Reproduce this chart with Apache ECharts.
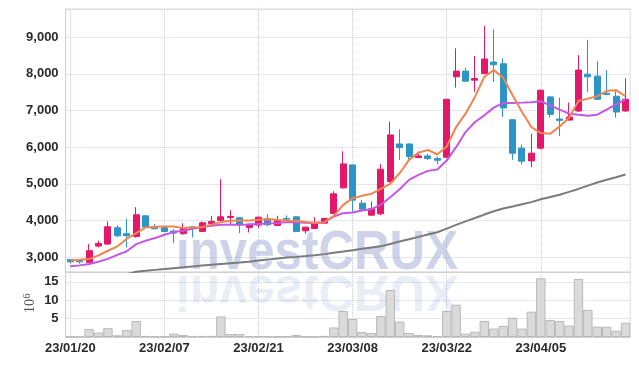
<!DOCTYPE html>
<html>
<head>
<meta charset="utf-8">
<script src="https://cdn.jsdelivr.net/npm/echarts@6/dist/echarts.min.js"></script>
<style>html,body{margin:0;padding:0;background:#fff}#c{width:639px;height:366px}</style>
</head>
<body>
<div id="c"></div>
<script>
const dates = ['23/01/20','23/01/25','23/01/26','23/01/27','23/01/30','23/01/31','23/02/01','23/02/02','23/02/03','23/02/06',
'23/02/07','23/02/08','23/02/09','23/02/10','23/02/13','23/02/14','23/02/15','23/02/16','23/02/17','23/02/20',
'23/02/21','23/02/22','23/02/23','23/02/24','23/02/27','23/02/28','23/03/02','23/03/03','23/03/06','23/03/07',
'23/03/08','23/03/09','23/03/10','23/03/13','23/03/14','23/03/15','23/03/16','23/03/17','23/03/20','23/03/21',
'23/03/22','23/03/23','23/03/24','23/03/27','23/03/28','23/03/29','23/03/30','23/03/31','23/04/03','23/04/04',
'23/04/05','23/04/06','23/04/07','23/04/10','23/04/11','23/04/12','23/04/13','23/04/14','23/04/17','23/04/18'];

const openP  = [2930,2920,2855,3300,3354,3800,3636,3563,4126,3808,3800,3708,3645,3826,3700,3917,4000,4081,4072,3808,
3872,4045,3863,4055,4099,3717,3781,3926,4190,4889,5516,4471,4144,4181,5062,6088,6088,5716,5761,5688,
5726,7921,8076,7829,8012,8323,8277,6750,5973,5625,5973,7372,6768,6740,6988,7994,7939,7473,7390,6988];
const closeP = [2870,2870,3173,3372,3826,3581,3581,4154,3818,3772,3700,3654,3800,3790,3936,3972,4099,4108,3881,3899,
4090,3881,4000,4035,3699,3817,3926,4054,4726,5543,4553,4308,4317,5398,6334,5988,5743,5761,5688,5643,
7308,8076,7802,7875,8406,8250,7070,5835,5616,5836,7555,6896,6732,6823,8104,7921,7308,7436,6960,7308];
const lowP   = [2830,2820,2836,3263,3336,3545,3263,3527,3808,3760,3672,3381,3609,3536,3690,3881,3990,3881,3654,3672,
3790,3840,3850,4010,3681,3636,3765,3910,4180,4870,4244,4262,4130,4144,5035,5652,5652,5700,5652,5534,
5700,7628,7780,7509,7990,7784,6823,5653,5525,5452,5936,6805,6302,6730,6960,7509,7290,7430,6805,6960];
const highP  = [2940,2925,3354,3445,3972,3863,4045,4362,4130,3900,3854,3763,3926,3835,3972,4126,5125,4280,4075,3905,
4100,4172,4126,4135,4110,3830,4090,4070,4798,5888,5520,4562,4517,5543,6697,6488,6100,5879,5816,5743,
7320,8698,8168,8488,9311,9220,8424,6760,6073,6366,7570,7390,7353,7217,8515,8927,8351,8104,7527,7884];

const ma5  = [2909,2927,2945,3045,3172,3290,3500,3654,3808,3826,3836,3836,3790,3808,3817,3881,3954,3990,4000,4000,
4017,4035,4017,3990,3990,3954,3935,3950,4126,4426,4608,4671,4726,4862,4998,5289,5652,5852,5925,5800,
6018,6549,6915,7372,7921,8104,7902,7418,6960,6549,6384,6366,6567,6805,7262,7326,7390,7537,7555,7390];
const ma10 = [2746,2773,2810,2870,2950,3060,3160,3354,3445,3518,3609,3681,3717,3772,3817,3854,3881,3881,3881,3890,
3905,3915,3930,3960,3950,3935,3930,3950,4108,4199,4217,4272,4308,4426,4635,4853,5107,5244,5353,5390,
5634,6000,6412,6686,6869,7079,7207,7207,7216,7226,7253,7143,7024,6915,6887,6860,6887,7024,7170,7308];
const maLong = [2300,2330,2360,2390,2420,2460,2530,2601,2625,2650,2673,2697,2720,2744,2767,2789,2810,2831,2852,2875,
2903,2930,2960,2985,3005,3026,3052,3080,3117,3152,3188,3224,3258,3292,3357,3423,3487,3551,3615,3678,
3775,3880,3975,4065,4160,4250,4325,4380,4440,4500,4580,4640,4700,4780,4860,4950,5035,5110,5180,5255];

const volume = [0.15,0.1,2.2,1.2,2.4,0.45,1.9,4.35,0.3,0.15,0.15,0.9,0.55,0.3,0.3,0.3,5.6,0.8,0.8,0.27,
0.2,0.2,0.15,0.2,0.55,0.15,0.1,0.3,2.6,7.1,4.9,1.35,1.1,5.7,12.8,4.2,1.1,0.55,0.45,0.2,
7.1,8.8,0.9,1.45,4.35,2.3,3.0,5.25,2.3,6.9,16.0,4.6,4.35,3.1,15.8,7.4,2.8,2.8,1.7,3.9];

const ohlc = openP.map((o, i) => [o, closeP[i], lowP[i], highP[i]]);

const labelFont = {fontFamily: "'Liberation Sans',sans-serif", fontSize: 13, fontWeight: 'bold', color: '#2a2a2a'};
const gridLine = {show: true, lineStyle: {color: '#c9cbdc', type: 'dotted', width: 1}};

const chart = echarts.init(document.getElementById('c'), null, {renderer: 'canvas'});
chart.setOption({
  animation: false,
  backgroundColor: '#fff',
  grid: [
    {left: 65.6, width: 564.6, top: 9, height: 263, show: true, borderColor: '#dcdcdc', borderWidth: 1},
    {left: 65.6, width: 564.6, top: 272, height: 65, show: true, borderColor: '#dcdcdc', borderWidth: 1}
  ],
  xAxis: [
    {type: 'category', gridIndex: 0, data: dates, boundaryGap: true,
     axisLine: {lineStyle: {color: '#d0d0d0'}}, axisTick: {show: false}, axisLabel: {show: false},
     splitLine: Object.assign({interval: 9, alignWithLabel: true}, gridLine)},
    {type: 'category', gridIndex: 1, data: dates, boundaryGap: true,
     axisLine: {lineStyle: {color: '#d0d0d0'}}, axisTick: {show: false},
     axisLabel: Object.assign({interval: 9, margin: 5}, labelFont),
     splitLine: Object.assign({interval: 9, alignWithLabel: true}, gridLine)}
  ],
  yAxis: [
    {type: 'value', gridIndex: 0, min: 2592, max: 9772, splitNumber: 7, scale: true,
     axisLine: {show: true, lineStyle: {color: '#d0d0d0'}}, axisTick: {show: false},
     axisLabel: Object.assign({showMinLabel: false, showMaxLabel: false, margin: 7,
       formatter: v => v.toLocaleString('en-US')}, labelFont),
     splitLine: gridLine},
    {type: 'value', gridIndex: 1, min: 0, max: 17.7, interval: 5,
     axisLine: {show: true, lineStyle: {color: '#d0d0d0'}}, axisTick: {show: false},
     axisLabel: Object.assign({showMinLabel: false, showMaxLabel: false, margin: 7}, labelFont),
     splitLine: gridLine}
  ],
  graphic: [
    {type: 'text', x: 176, y: 271, scaleX: 0.88, z: 1, silent: true,
     style: {text: 'investCRUX', font: "bold 56px 'Liberation Sans', sans-serif", fill: 'rgba(150,162,210,0.47)', verticalAlign: 'middle', y: -17}},
    {type: 'text', x: 176, y: 274.5, scaleX: 0.88, scaleY: -0.9, z: 1, silent: true,
     style: {text: 'investCRUX', font: "bold 56px 'Liberation Sans', sans-serif", fill: 'rgba(150,162,210,0.2)', verticalAlign: 'middle', y: -17}},
    {type: 'group', x: 37, y: 313, rotation: Math.PI / 2, z: 5, silent: true, children: [
      {type: 'text', x: 0, y: 0, style: {text: '10', font: "14px 'Liberation Serif', serif", fill: '#555', verticalAlign: 'bottom'}},
      {type: 'text', x: 14.5, y: -5, style: {text: '6', font: "10px 'Liberation Serif', serif", fill: '#555', verticalAlign: 'bottom'}}
    ]}
  ],
  series: [
    {type: 'candlestick', xAxisIndex: 0, yAxisIndex: 0, data: ohlc, barWidth: 6.5, z: 3,
     itemStyle: {color: '#e4186b', color0: '#2d95c5', borderColor: '#e4186b', borderColor0: '#2d95c5', borderWidth: 1}},
    {type: 'line', xAxisIndex: 0, yAxisIndex: 0, data: maLong, showSymbol: false, z: 2,
     lineStyle: {color: '#7b7b7b', width: 2}},
    {type: 'line', xAxisIndex: 0, yAxisIndex: 0, data: ma10, showSymbol: false, z: 4,
     lineStyle: {color: '#c456e6', width: 2}},
    {type: 'line', xAxisIndex: 0, yAxisIndex: 0, data: ma5, showSymbol: false, z: 4,
     lineStyle: {color: '#f0854f', width: 2}},
    {type: 'bar', xAxisIndex: 1, yAxisIndex: 1, data: volume, barCategoryGap: '0%', z: 3,
     itemStyle: {color: '#dadada', borderColor: '#b8b8b8', borderWidth: 1}}
  ]
});
</script>
</body>
</html>
